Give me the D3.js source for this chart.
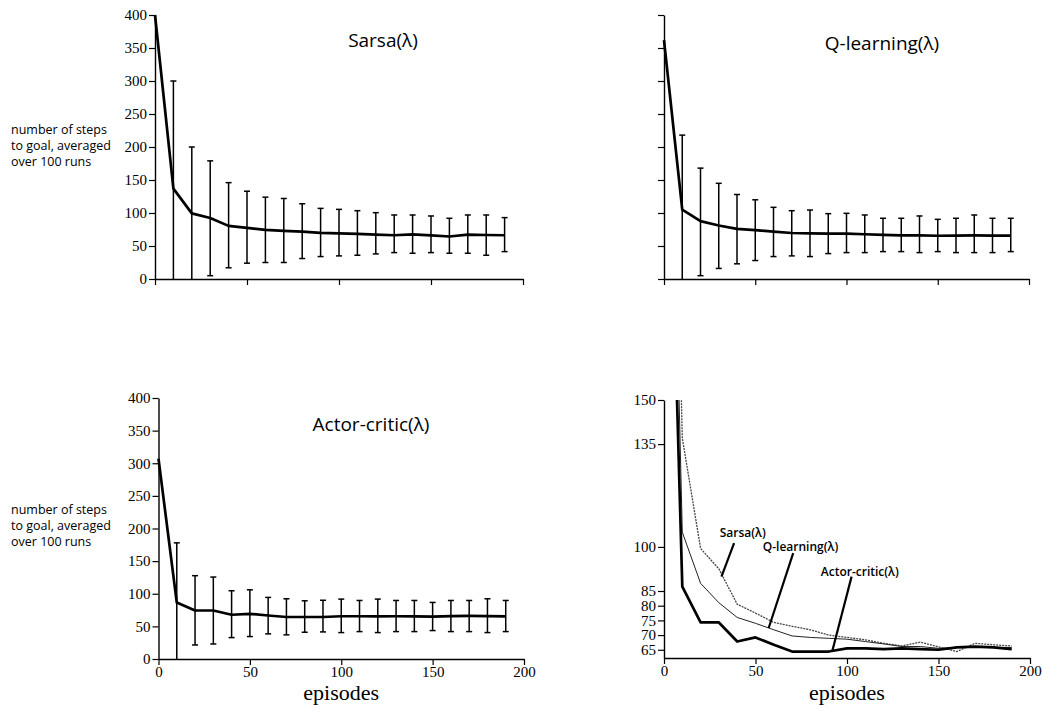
<!DOCTYPE html>
<html><head><meta charset="utf-8">
<script src="https://cdn.jsdelivr.net/npm/d3@7"></script>
<style>
html,body{margin:0;padding:0;background:#fff;}
svg{display:block;}
</style></head>
<body>
<svg id="c" width="1042" height="712"></svg>
<script>
const episodes = [0,10,20,30,40,50,60,70,80,90,100,110,120,130,140,150,160,170,180,190];
const sarsaMean = [400,137,99.5,92.5,80.5,77.5,74.3,73,71.8,70,69.2,68.4,67.2,66.3,67.6,66,64.4,67.2,66.7,66.3];
const sarsaHi   = [null,300,200,179,146,133,124,122,114,107,105.5,103.5,100.5,97,97,95.5,92,97,97,93];
const sarsaLo   = [null,0,0,5,17,24,25,25,31,34,35,36,38,40,39,40,39,39,36,41.5];
const qMean = [362,105,87.6,81,76,74,71.8,69.7,69.2,68.9,68.6,67.8,67,66.1,66.1,65.5,65.8,66.1,65.8,65.8];
const qHi   = [null,218,168,145,128,120,108.6,103.5,104.5,99,99.5,97,92,92,95.5,90.4,92,97,92,92];
const qLo   = [null,0,5,16,23,28,34,35,34,38.5,40,40,41.5,41.5,40,41.5,40,40,40,41.5];
const acMean = [307,86.5,74.3,74.3,67.8,69.2,66.7,64.4,64.4,64.4,65.5,65.5,65.2,65.5,65.2,65,65.8,66.1,65.8,65.2];
const acHi   = [null,178,127.7,125.6,104.6,106,94.4,92.3,89.2,90,91.8,89.7,91.8,89.7,89.7,86.7,89.7,89.7,92.3,89.7];
const acLo   = [null,0,21.5,23,32.8,34.4,38.5,37,41,41.5,40.5,42,40.5,42,42,43.6,42,42,40.5,42];

const xTicks = [0,50,100,150,200];
const yTicksMain = [0,50,100,150,200,250,300,350,400];
const yTicksZoom = [65,70,75,80,85,100,135,150];
const yLabelLines = ["number of steps","to goal, averaged","over 100 runs"];
const xTitle = "episodes";

const svg = d3.select("#c");
const SERIF = "'Liberation Serif','Times New Roman',serif";
const SANS = "'Open Sans','Noto Sans',sans-serif";

function styleAxis(g, showLabels){
  g.select(".domain").attr("stroke","#000").attr("stroke-width",1.4);
  g.selectAll(".tick line").attr("stroke","#000").attr("stroke-width",1.2);
  g.selectAll(".tick text").attr("fill","#000").attr("font-family",SERIF).attr("font-size",15)
    .style("display", showLabels ? null : "none");
}

function panel(opt){
  const x = d3.scaleLinear().domain([0,200]).range(opt.xr);
  const y = d3.scaleLinear().domain(opt.yd).range(opt.yr);
  const g = svg.append("g");
  const ax = g.append("g").attr("transform",`translate(0,${opt.yr[0]})`)
    .call(d3.axisBottom(x).tickValues(xTicks).tickSize(6).tickSizeOuter(0).tickPadding(1).tickFormat(d3.format("d")));
  styleAxis(ax, opt.xLabels);
  const ay = g.append("g").attr("transform",`translate(${opt.xr[0]},0)`)
    .call(d3.axisLeft(y).tickValues(opt.yTicks).tickSize(6).tickSizeOuter(0).tickPadding(2).tickFormat(d3.format("d")));
  styleAxis(ay, opt.yLabels);
  return {g,x,y};
}

function mainPanel(opt, mean, hi, lo){
  const {g,x,y} = panel(opt);
  const data = episodes.map((e,i)=>({e, m:mean[i], hi:hi[i], lo:lo[i]}));
  const eb = data.filter(d=>d.hi!==null);
  const cw = 3;
  g.selectAll(".eb").data(eb).enter().append("line")
    .attr("x1",d=>x(d.e)).attr("x2",d=>x(d.e)).attr("y1",d=>y(d.hi)).attr("y2",d=>y(d.lo))
    .attr("stroke","#000").attr("stroke-width",1.5);
  g.selectAll(".cap1").data(eb).enter().append("line")
    .attr("x1",d=>x(d.e)-cw).attr("x2",d=>x(d.e)+cw).attr("y1",d=>y(d.hi)).attr("y2",d=>y(d.hi))
    .attr("stroke","#000").attr("stroke-width",1.5);
  g.selectAll(".cap2").data(eb.filter(d=>d.lo>0)).enter().append("line")
    .attr("x1",d=>x(d.e)-cw).attr("x2",d=>x(d.e)+cw).attr("y1",d=>y(d.lo)).attr("y2",d=>y(d.lo))
    .attr("stroke","#000").attr("stroke-width",1.5);
  g.append("path").datum(data)
    .attr("d",d3.line().x(d=>x(d.e)).y(d=>y(d.m)))
    .attr("fill","none").attr("stroke","#000").attr("stroke-width",2.7).attr("stroke-linejoin","round");
  g.append("text").attr("x",opt.title[1]).attr("y",opt.title[2]).attr("text-anchor","middle")
    .attr("font-family",SANS).attr("font-size",19).attr("fill","#000").text(opt.title[0]);
  if(opt.ylab){
    const t = g.append("text").attr("font-family",SANS).attr("font-size",12.5).attr("fill","#000");
    yLabelLines.forEach((s,i)=>t.append("tspan").attr("x",11).attr("y",opt.ylab+i*16).text(s));
  }
  if(opt.xTitle){
    g.append("text").attr("x",(opt.xr[0]+opt.xr[1])/2).attr("y",700).attr("text-anchor","middle")
      .attr("font-family",SERIF).attr("font-size",22).attr("fill","#000").text(xTitle);
  }
}

mainPanel({xr:[155,523], yr:[279,15], yd:[0,400], yTicks:yTicksMain, xLabels:false, yLabels:true,
  title:["Sarsa(λ)",383,47], ylab:134}, sarsaMean, sarsaHi, sarsaLo);
mainPanel({xr:[664,1029], yr:[279,15], yd:[0,400], yTicks:yTicksMain, xLabels:false, yLabels:false,
  title:["Q-learning(λ)",882,50]}, qMean, qHi, qLo);
mainPanel({xr:[158.5,524], yr:[659,398], yd:[0,400], yTicks:yTicksMain, xLabels:true, yLabels:true,
  title:["Actor-critic(λ)",371,431], ylab:514, xTitle:true}, acMean, acHi, acLo);

// comparison panel
(function(){
  const opt = {xr:[664,1030], yr:[658,400], yd:[62.2,150], yTicks:yTicksZoom, xLabels:true, yLabels:true};
  const {g,x,y} = panel(opt);
  g.append("clipPath").attr("id","clipBR").append("rect")
    .attr("x",opt.xr[0]).attr("y",opt.yr[1]).attr("width",opt.xr[1]-opt.xr[0]).attr("height",opt.yr[0]-opt.yr[1]);
  const line = d3.line().x((d,i)=>x(episodes[i])).y(d=>y(d));
  const lg = g.append("g").attr("clip-path","url(#clipBR)");
  lg.append("path").datum(sarsaMean).attr("d",line).attr("fill","none")
    .attr("stroke","#444").attr("stroke-width",1.3).attr("stroke-dasharray","2,1");
  lg.append("path").datum(qMean).attr("d",line).attr("fill","none")
    .attr("stroke","#222").attr("stroke-width",1);
  lg.append("path").datum(acMean).attr("d",line).attr("fill","none")
    .attr("stroke","#000").attr("stroke-width",2.7).attr("stroke-linejoin","round");
  const notes = [
    {t:"Sarsa(λ)", lx:43, ly:103.3, p:[[38.3,101.3],[31.4,89.9]]},
    {t:"Q-learning(λ)", lx:74.6, ly:98.6, p:[[70.6,97.9],[57.2,72.4]]},
    {t:"Actor-critic(λ)", lx:107, ly:90, p:[[102.5,89.9],[91.9,64.4]]}
  ];
  notes.forEach(n=>{
    g.append("text").attr("x",x(n.lx)).attr("y",y(n.ly)).attr("text-anchor","middle")
      .attr("font-family",SANS).attr("font-size",12).attr("font-weight",600).attr("fill","#000").text(n.t);
    g.append("line").attr("x1",x(n.p[0][0])).attr("y1",y(n.p[0][1]))
      .attr("x2",x(n.p[1][0])).attr("y2",y(n.p[1][1])).attr("stroke","#000").attr("stroke-width",2.2);
  });
  g.append("text").attr("x",(opt.xr[0]+opt.xr[1])/2).attr("y",700).attr("text-anchor","middle")
    .attr("font-family",SERIF).attr("font-size",22).attr("fill","#000").text(xTitle);
})();
</script>
</body></html>
